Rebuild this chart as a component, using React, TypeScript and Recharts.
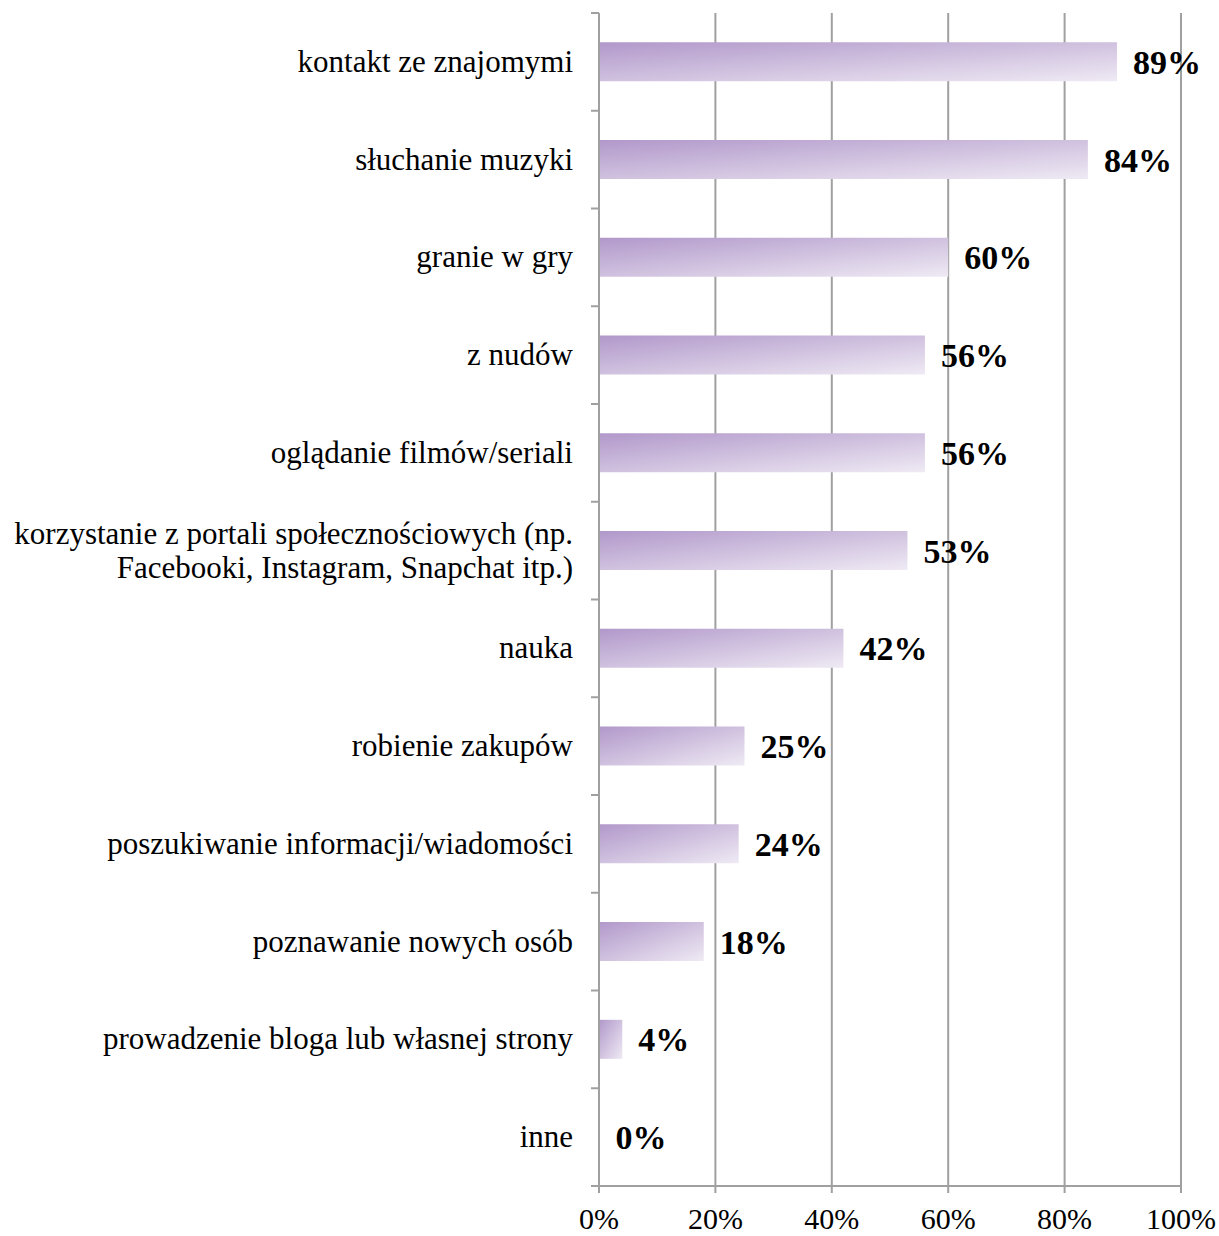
import React from "react";
import { BarChart, Bar, XAxis, YAxis, CartesianGrid, LabelList } from "recharts";

const categories = [
  "kontakt ze znajomymi",
  "słuchanie muzyki",
  "granie w gry",
  "z nudów",
  "oglądanie filmów/seriali",
  "korzystanie z portali społecznościowych (np.\nFacebooki, Instagram, Snapchat itp.)",
  "nauka",
  "robienie zakupów",
  "poszukiwanie informacji/wiadomości",
  "poznawanie nowych osób",
  "prowadzenie bloga lub własnej strony",
  "inne",
];
const shares = [0.89, 0.84, 0.6, 0.56, 0.56, 0.53, 0.42, 0.25, 0.24, 0.18, 0.04, 0];
const xTicks = [0, 0.2, 0.4, 0.6, 0.8, 1];

const data = categories.map((name, i) => ({ name, value: shares[i] }));

const FONT = "'Liberation Serif', serif";
const GRID = "#a0a0a0";
const LABEL_GAP = 26;

const pct = (v: number) => `${Math.round(v * 100)}%`;

// category label + Excel-style tick marks on the band boundaries
function CategoryTick({ x, y, payload, index, visibleTicksCount }: any) {
  const lines = String(payload.value).split("\n");
  const lh = 34;
  const start = -((lines.length - 1) * lh) / 2;
  const half = payload.offset || 0;
  const ax = x + LABEL_GAP;
  const last = index === visibleTicksCount - 1;
  return (
    <g>
      <line x1={ax - 8} x2={ax} y1={y - half} y2={y - half} stroke={GRID} strokeWidth={2} />
      {last && <line x1={ax - 8} x2={ax} y1={y + half} y2={y + half} stroke={GRID} strokeWidth={2} />}
      <text x={x} y={y} textAnchor="end" fontFamily={FONT} fontSize={31} fill="#000">
        {lines.map((l, i) => (
          <tspan key={i} x={x} dy={i === 0 ? start + 10 : lh}>
            {l}
          </tspan>
        ))}
      </text>
    </g>
  );
}

export default function App() {
  return (
    <div style={{ position: "absolute", left: 0, top: 0, background: "#fff" }}>
      <BarChart
        width={1219}
        height={1236}
        data={data}
        layout="vertical"
        margin={{ top: 13, right: 38, bottom: 0, left: 0 }}
        barCategoryGap="30%"
      >
        <defs>
          <linearGradient id="barFill" x1="0" y1="0" x2="1" y2="1">
            <stop offset="0%" stopColor="#b198ca" />
            <stop offset="100%" stopColor="#efeaf4" />
          </linearGradient>
        </defs>
        <CartesianGrid horizontal={false} stroke={GRID} strokeWidth={2} />
        <XAxis
          type="number"
          domain={[0, 1]}
          ticks={xTicks}
          tickFormatter={pct}
          height={50}
          stroke={GRID}
          strokeWidth={2}
          tickSize={7}
          tickMargin={15}
          tick={{ fontFamily: FONT, fontSize: 30, fill: "#000" }}
          interval={0}
        />
        <YAxis
          dataKey="name"
          type="category"
          width={599}
          stroke={GRID}
          strokeWidth={2}
          tickLine={false}
          tickSize={0}
          tickMargin={LABEL_GAP}
          tick={<CategoryTick />}
          interval={0}
        />
        <Bar dataKey="value" fill="url(#barFill)" minPointSize={0.5} isAnimationActive={false}>
          <LabelList
            dataKey="value"
            position="right"
            offset={16}
            formatter={(v: any) => pct(Number(v))}
            style={{ fontFamily: FONT, fontSize: 34, fontWeight: "bold", fill: "#000" }}
          />
        </Bar>
      </BarChart>
    </div>
  );
}
